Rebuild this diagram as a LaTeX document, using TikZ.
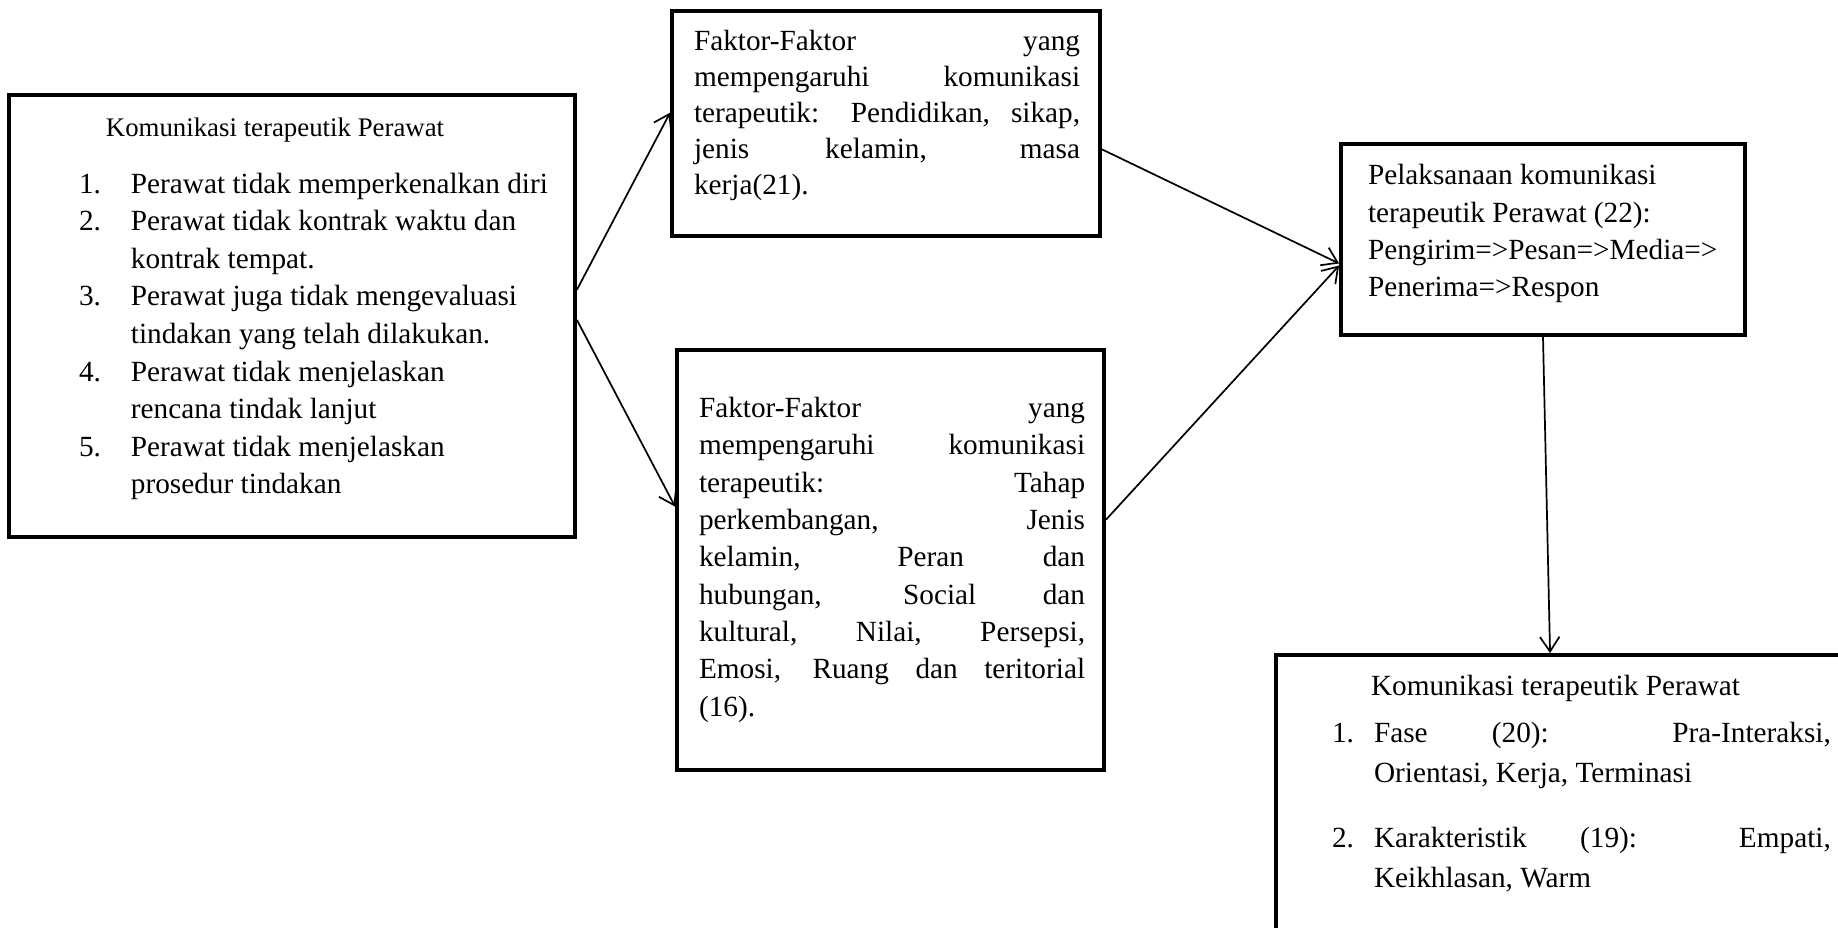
\documentclass[tikz,border=0pt]{standalone}
\usepackage{fontspec}
\setmainfont{Liberation Serif}
\usetikzlibrary{arrows.meta,fit,calc}
\begin{document}
\begin{tikzpicture}[x=0.41pt,y=-0.41pt,
  box/.style={draw,line width=1.6pt,inner sep=0pt},
  conn/.style={line width=0.7pt,-{Straight Barb[length=6pt,width=8pt]}},
  txt/.style={inner sep=0pt,outer sep=0pt}]
\useasboundingbox (0,0) rectangle (1838,928);
\clip (0,0) rectangle (1838,928);
% boxes
\node (b1) [box, fit={(9,95) (575,537)}] {};
\node (b2) [box, fit={(672,11) (1100,236)}] {};
\node (b3) [box, fit={(677,350) (1104,770)}] {};
\node (b4) [box, fit={(1341,144) (1745,335)}] {};
\node (b5) [box, fit={(1276,655) (1880,980)}] {};
% box 1 text
\node (h1) [txt, anchor=base, font=\fontsize{11}{13}\selectfont] at (275,137) {Komunikasi terapeutik Perawat};
\node (l1) [txt, anchor=north west, font=\fontsize{12}{15.4}\selectfont] at (79,167) {%
\begin{tabular}{@{}p{21.3pt}@{}l@{}}
1. & Perawat tidak memperkenalkan diri\\
2. & Perawat tidak kontrak waktu dan\\
   & kontrak tempat.\\
3. & Perawat juga tidak mengevaluasi\\
   & tindakan yang telah dilakukan.\\
4. & Perawat tidak menjelaskan\\
   & rencana tindak lanjut\\
5. & Perawat tidak menjelaskan\\
   & prosedur tindakan
\end{tabular}};
% box 2 text
\node (t2) [txt, anchor=north west, text width=158.3pt, align=justify, font=\fontsize{12}{14.8}\selectfont] at (694,25) {%
\tolerance=10000\hyphenpenalty=10000\exhyphenpenalty=10000\strut
Faktor-Faktor yang\linebreak mempengaruhi komunikasi\linebreak terapeutik: Pendidikan, sikap,\linebreak jenis kelamin, masa\linebreak kerja(21).};
% box 3 text
\node (t3) [txt, anchor=north west, text width=158.3pt, align=justify, font=\fontsize{12}{15.3}\selectfont] at (699,391.5) {%
\tolerance=10000\hyphenpenalty=10000\exhyphenpenalty=10000\strut
Faktor-Faktor yang\linebreak mempengaruhi komunikasi\linebreak terapeutik: Tahap\linebreak perkembangan, Jenis\linebreak kelamin, Peran dan\linebreak hubungan, Social dan\linebreak kultural, Nilai, Persepsi,\linebreak Emosi, Ruang dan teritorial\linebreak (16).};
% box 4 text
\node (t4) [txt, anchor=north west, align=left, font=\fontsize{12}{15.2}\selectfont] at (1368,159) {%
\strut Pelaksanaan komunikasi\\ terapeutik Perawat (22):\\ Pengirim=>Pesan=>Media=>\\ Penerima=>Respon};
% box 5 text
\node (h5) [txt, anchor=base west, font=\fontsize{12}{15}\selectfont] at (1371,695) {Komunikasi terapeutik Perawat};
\node (n51) [txt, anchor=base west, font=\fontsize{12}{15}\selectfont] at (1332,742) {1.};
\node (t51) [txt, anchor=north west, text width=187.3pt, align=justify, font=\fontsize{12}{16.4}\selectfont] at (1374,714) {%
\tolerance=10000\hyphenpenalty=10000\exhyphenpenalty=10000\strut
Fase (20): Pra-Interaksi,\linebreak Orientasi, Kerja, Terminasi};
\node (n52) [txt, anchor=base west, font=\fontsize{12}{15}\selectfont] at (1332,847) {2.};
\node (t52) [txt, anchor=north west, text width=187.3pt, align=justify, font=\fontsize{12}{16.4}\selectfont] at (1374,819) {%
\tolerance=10000\hyphenpenalty=10000\exhyphenpenalty=10000\strut
Karakteristik (19): Empati,\linebreak Keikhlasan, Warm};
% connectors
\draw[conn] ($(b1.north east)!0.441!(b1.south east)$) -- ($(b2.north west)!0.453!(b2.south west)$);
\draw[conn] ($(b1.north east)!0.509!(b1.south east)$) -- ($(b3.north west)!0.374!(b3.south west)$);
\draw[conn] ($(b2.north east)!0.613!(b2.south east)$) -- ($(b4.north west)!0.623!(b4.south west)$);
\draw[conn] ($(b3.north east)!0.405!(b3.south east)$) -- ($(b4.north west)!0.634!(b4.south west)$);
\draw[conn] (b4.south) -- ($(b5.north west)+(276,0)$);
\end{tikzpicture}
\end{document}
